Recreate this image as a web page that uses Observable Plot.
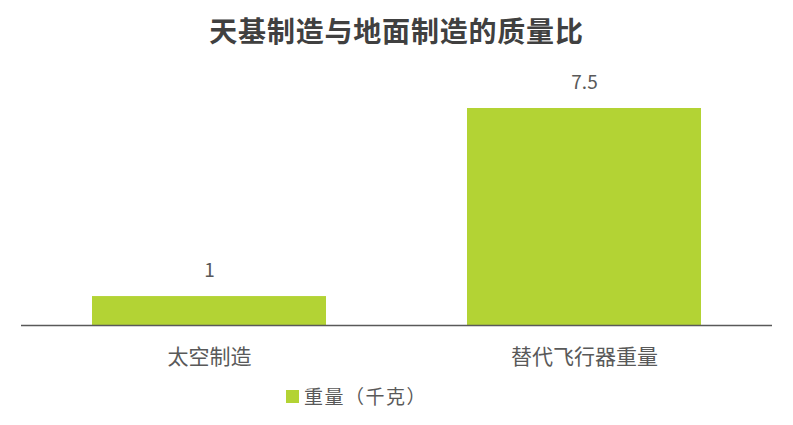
<!DOCTYPE html>
<html>
<head>
<meta charset="utf-8">
<script src="https://cdn.jsdelivr.net/npm/d3@7"></script>
<script src="https://cdn.jsdelivr.net/npm/@observablehq/plot@0.6"></script>
<style>
  html, body { margin: 0; padding: 0; background: #fff; }
  body { width: 793px; height: 425px; position: relative; overflow: hidden;
         font-family: "Noto Sans CJK SC", "Noto Sans", sans-serif; }
  #title { position: absolute; left: 0; top: 0; width: 793px; height: 60px; line-height: 60px;
           text-align: center; font-size: 28px; font-weight: bold; color: #404040; letter-spacing: 0.8px; }
  #chart { position: absolute; left: 0; top: 60px; }
  #legend { position: absolute; left: 286px; top: 380px; height: 32px; line-height: 32px;
            font-size: 19px; color: #595959; display: flex; align-items: center; }
  #legend .sw { width: 13px; height: 13px; background: #b3d334; margin-right: 5px; }
  #legend .tx { letter-spacing: 1.5px; }
</style>
</head>
<body>
<div id="title">天基制造与地面制造的质量比</div>
<div id="chart"></div>
<div id="legend"><span class="sw"></span><span class="tx">重量（千克）</span></div>
<script>
const categories = ["太空制造", "替代飞行器重量"];
const values = [1, 7.5];
const labels = ["1", "7.5"];
const seriesName = "重量（千克）";

const data = categories.map((c, i) => ({category: c, value: values[i], label: labels[i]}));

const chart = Plot.plot({
  width: 793,
  height: 320,
  marginLeft: 21,
  marginRight: 21,
  marginTop: 48,
  marginBottom: 55,
  style: {fontFamily: '"Noto Sans CJK SC", "Noto Sans", sans-serif', color: "#595959", background: "transparent"},
  x: {domain: categories, paddingInner: 0.376, paddingOuter: 0.188, label: null},
  y: {domain: [0, 7.5], axis: null},
  marks: [
    Plot.barY(data, {x: "category", y: "value", fill: "#b3d334"}),
    Plot.ruleY([0], {stroke: "#595959", strokeWidth: 1.5}),
    Plot.text(data, {x: "category", y: "value", text: "label", dy: -26, fontSize: 19, fill: "#595959"}),
    Plot.axisX({tickSize: 0, tickPadding: 24, fontSize: 21, fill: "#595959", label: null})
  ]
});
document.getElementById("chart").appendChild(chart);
</script>
</body>
</html>
